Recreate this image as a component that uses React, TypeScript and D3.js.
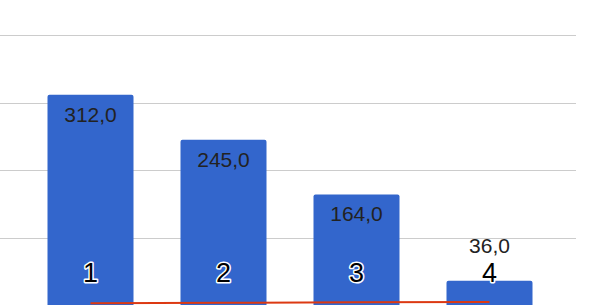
import React from "react";
import * as d3 from "d3";

const categories = ["1", "2", "3", "4"];
const barValues = [312, 245, 164, 36];
const lineValues = [2.5, 3.2, 3.9, 4.6];
const gridTicks = [100, 200, 300, 400];

const W = 602;
const H = 305;

export default function App() {
  const y = d3.scaleLinear().domain([0, 400]).range([305, 35.4]);
  const x = d3.scalePoint<string>().domain(categories).range([90.5, 489.5]);
  const barW = 86;
  const font = "Arial, 'Liberation Sans', sans-serif";
  const catBaseline = 282;

  const line = d3
    .line<number>()
    .x((_, i) => x(categories[i]) as number)
    .y((v) => y(v));

  const fmt = (v: number) => v.toFixed(1).replace(".", ",");

  return (
    <svg
      width={W}
      height={H}
      style={{ position: "absolute", left: 0, top: 0, background: "#fff" }}
    >
      {gridTicks.map((t) => (
        <line
          key={t}
          x1={0}
          x2={576}
          y1={Math.round(y(t)) + 0.5}
          y2={Math.round(y(t)) + 0.5}
          stroke="#cccccc"
          strokeWidth={1}
        />
      ))}
      {barValues.map((v, i) => {
        const cx = x(categories[i]) as number;
        return (
          <rect
            key={i}
            x={cx - barW / 2}
            y={y(v)}
            width={barW}
            height={y(0) - y(v) + 10}
            rx={2}
            fill="#3366cc"
          />
        );
      })}
      {barValues.map((v, i) => {
        const cx = x(categories[i]) as number;
        const inside = y(0) - y(v) > 60;
        const yy = inside ? y(v) + 27 : catBaseline - 29;
        return (
          <text
            key={i}
            x={cx}
            y={yy}
            textAnchor="middle"
            fontFamily={font}
            fontSize={21}
            fill="#222"
          >
            {fmt(v)}
          </text>
        );
      })}
      {categories.map((c) => (
        <text
          key={c}
          x={x(c) as number}
          y={catBaseline}
          textAnchor="middle"
          fontFamily={font}
          fontSize={27}
          fill="#000"
          stroke="#fff"
          strokeWidth={3}
          strokeLinejoin="round"
          style={{ paintOrder: "stroke" }}
        >
          {c}
        </text>
      ))}
      <path
        d={line(lineValues) as string}
        fill="none"
        stroke="#dc3912"
        strokeWidth={2}
      />
    </svg>
  );
}
